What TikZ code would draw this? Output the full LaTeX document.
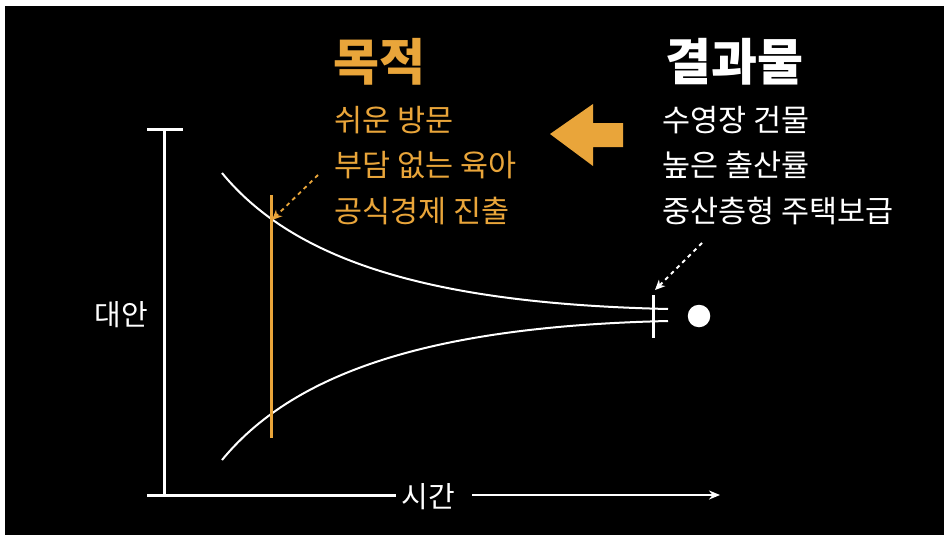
\documentclass[tikz,border=0pt]{standalone}
\usepackage{fontspec}
\setmainfont{Noto Sans CJK KR}
\usetikzlibrary{arrows.meta}
\definecolor{accent}{HTML}{E9A53A}
\tikzset{
  axisline/.style={draw=white, line width=3pt},
  curveline/.style={draw=white, line width=2pt},
  dotarrow/.style={line width=1.8pt, dash pattern=on 4pt off 4pt, -{Stealth[length=10pt,width=9pt,inset=3pt]}},
  headtxt/.style={font=\fontsize{50}{54}\selectfont\bfseries, inner sep=0pt, anchor=west},
  itemtxt/.style={font=\fontsize{30.5}{33}\selectfont, inner sep=0pt, anchor=west},
  labtxt/.style={font=\fontsize{29}{32}\selectfont, text=white, inner sep=0pt},
}
\begin{document}
\begin{tikzpicture}[x=1pt,y=-1pt]
\useasboundingbox (0,0) rectangle (944,535);
\fill[white] (0,0) rectangle (944,535);
\fill[black] (5,6) rectangle (944,535);

% axes
\coordinate (ytop) at (164,129);
\coordinate (ybot) at (164,495);
\coordinate (tickL) at (147,129);
\coordinate (tickR) at (183,129);
\coordinate (xstart) at (147,495);
\coordinate (xmid) at (396,495);
\coordinate (arrstart) at (472,495);
\coordinate (arrend) at (720,495);
\draw[axisline] (ytop) -- (ybot);
\draw[axisline] (tickL) -- (tickR);
\draw[axisline] (xstart) -- (xmid);
\draw[white, line width=2pt, -{Stealth[length=11pt,width=9pt]}] (arrstart) -- (arrend);
\node[labtxt] (xlab) at (428,497) {시간};
\node[labtxt] (ylab) at (121,315) {대안};

% curves
\coordinate (uA) at (222,173);
\coordinate (uB) at (668,309);
\coordinate (lA) at (222,460);
\coordinate (lB) at (668,321);
\draw[curveline] (uA) .. controls (300,268) and (450,304) .. (uB);
\draw[curveline] (lA) .. controls (300,365) and (450,326) .. (lB);

% orange vertical line
\coordinate (oT) at (271,195);
\coordinate (oB) at (271,438);
\draw[accent, line width=3pt] (oT) -- (oB);

% cross mark and dot
\coordinate (cT) at (653,295);
\coordinate (cB) at (653,338);
\draw[white, line width=3pt] (cT) -- (cB);
\node[circle, fill=white, minimum size=22.5pt, inner sep=0pt] (dot) at (699,316) {};

% dotted arrows
\coordinate (wa1) at (702,243);
\coordinate (wa2) at (655,290);
\draw[dotarrow, white] (wa1) -- (wa2);
\coordinate (oa1) at (318,175);
\coordinate (oa2) at (272,220);
\draw[dotarrow, accent] (oa1) -- (oa2);

% big orange arrow
\fill[accent] (550,134) -- (593,104) -- (593,123) -- (623,123) -- (623,147) -- (593,147) -- (593,166) -- cycle;

% headings
\node[headtxt, text=accent] (goal) at (333,62) {목적};
\node[headtxt, text=white] (result) at (665,62) {결과물};

% lists
\node[itemtxt, text=accent] (g1) at (334,120) {쉬운 방문};
\node[itemtxt, text=accent] (g2) at (334,165) {부담 없는 육아};
\node[itemtxt, text=accent] (g3) at (334,211) {공식경제 진출};
\node[itemtxt, text=white] (r1) at (662,120) {수영장 건물};
\node[itemtxt, text=white] (r2) at (662,165) {높은 출산률};
\node[itemtxt, text=white] (r3) at (662,211) {중산층형 주택보급};
\end{tikzpicture}
\end{document}
